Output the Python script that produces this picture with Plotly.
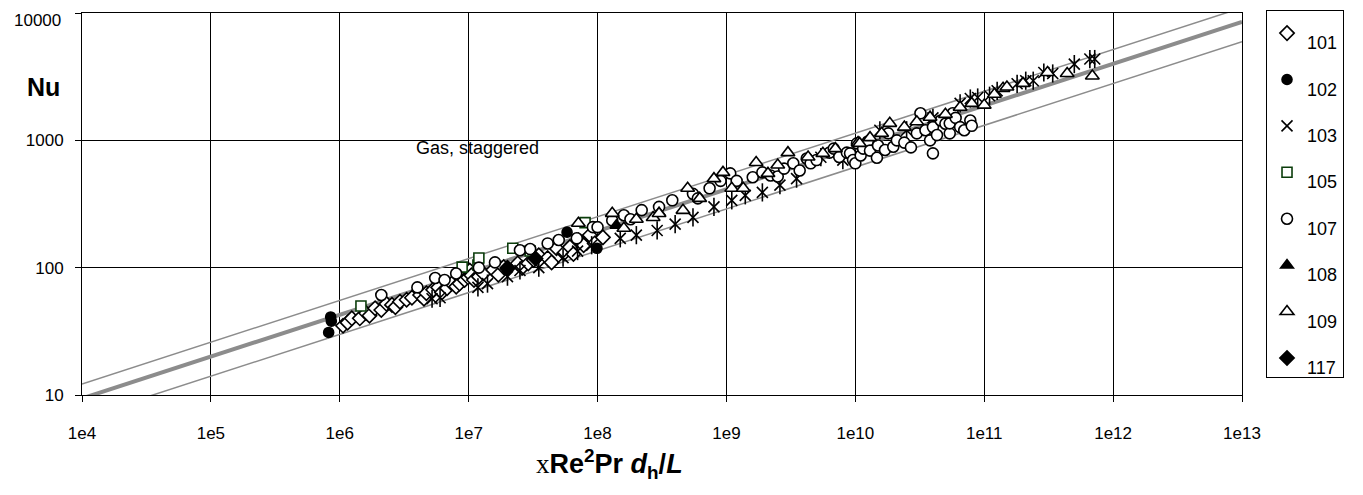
import plotly.graph_objects as go

# ---- reference lines (endpoints of correlation and +/-30% band) ----
line_x = [1e4, 1e13]
line_mid = [9.4, 8500]
line_up = [12.2, 11000]
line_lo = [6.6, 5950]

# ---- measured data ----
s101_x = [1.06e6, 1.15e6, 1.24e6, 1.43e6, 1.6e6, 1.7e6, 1.88e6, 2.1e6, 2.3e6, 2.54e6, 2.7e6, 2.93e6,
          3.3e6, 3.63e6, 4.2e6, 4.5e6, 4.7e6, 5.3e6, 5.8e6, 6.2e6, 6.8e6, 7.4e6, 8e6, 8.5e6, 9.3e6,
          9.9e6, 1.02e7, 1.05e7, 1.1e7, 1.2e7, 1.3e7, 1.55e7, 1.7e7, 1.87e7, 2.0e7, 2.4e7, 2.6e7,
          2.9e7, 3.2e7, 3.5e7, 4.1e7, 4.4e7, 4.8e7, 5.5e7, 6.1e7, 6.5e7, 7.1e7, 7.8e7, 8.7e7,
          9.5e7, 1.1e8]
s101_y = [35, 37, 40, 40, 44, 42, 48, 46.5, 52, 51, 49, 54,
          56, 58, 61, 57, 63, 67, 70, 64, 69, 75, 71, 75, 80,
          84, 95, 87, 80, 85, 90, 96, 88, 101, 98, 108, 100,
          108, 115, 125, 119, 110, 142, 130, 145, 128, 164, 150, 180,
          155, 173]

s102_x = [8.5e5, 8.6e5, 8.2e5, 5.8e7, 9.9e7]
s102_y = [41, 38, 31, 190, 142]

s103_x = [5.2e6, 6e6, 1.18e7, 1.4e7, 2e7, 2.5e7, 3.5e7, 5.4e7, 7e7, 9e7, 1.5e8, 2e8, 2.9e8, 4e8,
          5.5e8, 8e8, 1.1e9, 1.4e9, 1.9e9, 2.6e9, 3.5e9, 5.4e9, 8e9, 1.2e10, 1.55e10, 2.5e10,
          4e10, 6.5e10, 7.8e10, 8.9e10, 1.1e11, 1.26e11, 1.8e11, 2.1e11, 2.4e11,
          2.9e11, 3.4e11, 5e11, 6.6e11, 7.2e11]
s103_y = [57, 58, 70, 75, 85, 95, 100, 120, 135, 150, 170, 180, 196, 220,
          248, 300, 338, 370, 390, 445, 500, 737, 700, 900, 1200, 1200,
          1500, 1950, 2130, 2170, 2240, 2450, 2780, 2940, 2940,
          3410, 3350, 3970, 4350, 4350]

s105_x = [1.46e6, 8.9e6, 1.18e7, 1.2e7, 2.2e7, 3.0e7, 8e7]
s105_y = [50, 101, 105, 119, 142, 135, 226]

s107_x = [2.1e6, 4e6, 5.5e6, 6.5e6, 8e6, 1.2e7, 1.6e7, 2.5e7, 3e7, 4.1e7, 5e7, 6.9e7, 9.2e7, 1e8,
          1.3e8, 1.6e8, 1.8e8, 2.2e8, 3e8, 3.8e8, 5.5e8, 6e8, 7.4e8, 9e8, 1.07e9, 1.2e9, 1.6e9,
          1.9e9, 2.2e9, 2.5e9, 2.8e9, 3.3e9, 3.7e9, 4.2e9, 4.5e9, 5e9, 6.3e9, 6.8e9, 7.5e9,
          8.6e9, 9.1e9, 9.6e9, 1.0e10, 1.03e10, 1.1e10, 1.15e10, 1.25e10, 1.3e10, 1.47e10,
          1.5e10, 1.7e10, 1.8e10, 1.97e10, 2.1e10, 2.4e10, 2.7e10, 3e10, 3.2e10, 3.5e10, 3.8e10,
          4e10, 4e10, 4.3e10, 4.6e10, 5e10, 5.4e10, 5.4e10, 5.7e10, 6e10, 6.5e10, 7e10, 7.8e10,
          8e10]
s107_y = [61, 70, 83, 80, 90, 100, 110, 137, 140, 155, 165, 170, 208, 208,
          235, 258, 240, 283, 300, 338, 380, 350, 420, 480, 550, 480, 513,
          560, 530, 520, 600, 660, 580, 720, 660, 700, 800, 860, 740,
          800, 790, 700, 660, 946, 760, 860, 980, 830, 730,
          910, 840, 1135, 890, 1000, 960, 880, 1135, 1630, 1200, 1000,
          1270, 790, 1100, 1430, 1350, 1135, 1360, 1630, 1500, 1270, 1200, 1430,
          1300]

s108_x = [1.4e8, 3.0e8]
s108_y = [215, 270]

s109_x = [7.1e7, 1.3e8, 1.6e8, 2e8, 2.7e8, 3.0e8, 4.6e8, 5e8, 6.2e8, 8e8, 9.4e8, 1.1e9, 1.35e9,
          1.7e9, 2.1e9, 2.5e9, 3e9, 4.3e9, 5.6e9, 7e9, 1.05e10, 1.08e10, 1.3e10, 1.6e10, 1.85e10,
          2.4e10, 3e10, 3.8e10, 5e10, 6.5e10, 8e10, 1.0e11, 1.2e11, 1.4e11, 1.5e11, 2e11, 3.1e11,
          4.4e11, 6.9e11]
s109_y = [223, 267, 204, 240, 248, 266, 282, 420, 350, 500, 560, 420, 420,
          670, 550, 640, 800, 740, 790, 860, 960, 946, 1050, 1135, 1360,
          1270, 1400, 1520, 1600, 1820, 1950, 1890, 2300, 2560, 2620, 2800, 3410,
          3350, 3200]

s117_x = [2.0e7, 3.3e7]
s117_y = [100, 118]

x_tickvals = [1e4, 1e5, 1e6, 1e7, 1e8, 1e9, 1e10, 1e11, 1e12, 1e13]
x_ticktext = ["1e4", "1e5", "1e6", "1e7", "1e8", "1e9", "1e10", "1e11", "1e12", "1e13"]
y_tickvals = [10, 100, 1000, 10000]
y_ticktext = ["10", "100", "1000", "10000"]

fig = go.Figure()

gray = "#8c8c8c"
fig.add_trace(go.Scatter(x=line_x, y=line_up, mode="lines", line=dict(color=gray, width=1.5),
                         showlegend=False, hoverinfo="skip"))
fig.add_trace(go.Scatter(x=line_x, y=line_lo, mode="lines", line=dict(color=gray, width=1.5),
                         showlegend=False, hoverinfo="skip"))
fig.add_trace(go.Scatter(x=line_x, y=line_mid, mode="lines", line=dict(color=gray, width=4),
                         showlegend=False, hoverinfo="skip"))

lw = 1.6
def add(name, xs, ys, symbol, size, fill, lcolor="black", group=None, showlegend=True):
    fig.add_trace(go.Scatter(
        x=xs, y=ys, mode="markers",
        name="<span style='baseline-shift:-9px'>" + name + "</span>",
        legendgroup=group or name, showlegend=showlegend,
        marker=dict(symbol=symbol, size=size, color=fill,
                    line=dict(color=lcolor, width=lw)),
    ))

add("101", s101_x, s101_y, "diamond", 11, "white")
add("102", s102_x, s102_y, "circle", 10, "black")
add("103", s103_x, s103_y, "x-thin", 11, "black")
add("103", s103_x, s103_y, "line-ns", 13, "black", group="103", showlegend=False)
add("105", s105_x, s105_y, "square", 10, "white", lcolor="#0b3d0b")
add("107", s107_x, s107_y, "circle", 11, "white")
add("108", s108_x, s108_y, "triangle-up", 11, "black")
add("109", s109_x, s109_y, "triangle-up", 12, "white")
add("117", s117_x, s117_y, "diamond", 11, "black")

FONT = "Liberation Sans, Arial"
axis_common = dict(
    type="log", showgrid=True, gridcolor="black", gridwidth=1,
    showline=True, linecolor="black", linewidth=1, mirror=True,
    ticks="outside", ticklen=6, tickcolor="black", tickwidth=1,
    tickfont=dict(family=FONT, size=17, color="black"),
    ticklabeloverflow="allow", zeroline=False,
)

# the top tick label is kept inside the chart (drawn slightly below its tick, as in the original)
y_ticktext_axis = [t if v != 10000 else "" for v, t in zip(y_tickvals, y_ticktext)]

# page has an 8px body margin: plot area spans x 82..1242, y 13..395 in the window
fig.update_layout(
    width=1355, height=487,
    margin=dict(l=74, r=121, t=5, b=100, autoexpand=False),
    paper_bgcolor="white", plot_bgcolor="white",
    font=dict(family=FONT, color="black"),
    xaxis=dict(range=[4, 13], tickmode="array", tickvals=x_tickvals, ticktext=x_ticktext,
               ticklabelstandoff=17, **axis_common),
    yaxis=dict(range=[1, 4], tickmode="array", tickvals=y_tickvals, ticktext=y_ticktext_axis,
               ticklabelstandoff=8, **axis_common),
    legend=dict(x=1.0207, y=1.0078, xanchor="left", yanchor="top",
                bordercolor="black", borderwidth=1, bgcolor="white",
                font=dict(family=FONT, size=18, color="black"),
                title=dict(text=" ", font=dict(size=3)),
                tracegroupgap=20, traceorder="grouped", itemsizing="trace",
                maxheight=420, entrywidth=46),
    showlegend=True,
    annotations=[
        dict(text=y_ticktext[-1], xref="paper", yref="paper", x=-0.0164, y=0.9804,
             xanchor="right", yanchor="middle", showarrow=False,
             font=dict(size=17, family=FONT, color="black")),
        dict(text="Gas, staggered", xref="paper", yref="paper", x=0.341, y=0.646,
             xanchor="center", yanchor="middle",
             showarrow=False, font=dict(size=18, family=FONT)),
        dict(text="<b>Nu</b>", xref="paper", yref="paper", x=-0.0332, y=0.806,
             xanchor="center", yanchor="middle",
             showarrow=False, font=dict(size=25, family=FONT)),
        dict(text="<span style='font-family:Liberation Serif, Times New Roman; font-weight:normal'>x</span>"
                  "<b>Re<sup>2</sup>Pr <i>d</i><sub>h</sub>/<i>L</i></b>",
             xref="paper", yref="paper", x=0.455, y=-0.18, xanchor="center", yanchor="middle",
             showarrow=False, font=dict(size=27, family=FONT)),
    ],
)

fig.write_html("out.html")
